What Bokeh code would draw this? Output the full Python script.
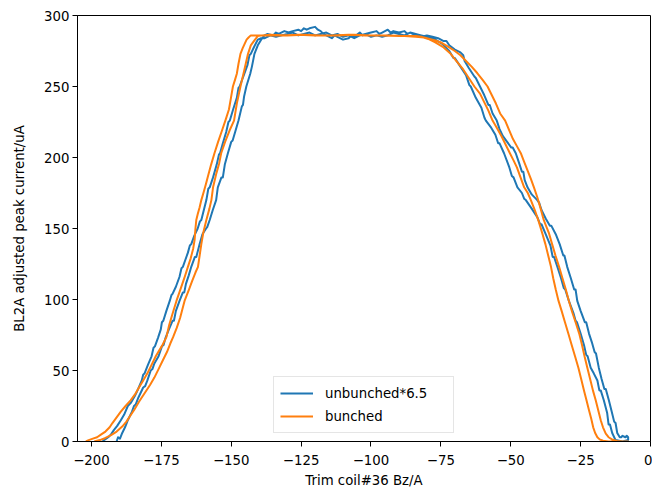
from bokeh.plotting import figure
from bokeh.models import FixedTicker, Legend, LegendItem, Range1d
from bokeh.embed import file_html
from bokeh.resources import INLINE

# ---------------- data ----------------
x_ticks = [-200, -175, -150, -125, -100, -75, -50, -25, 0]
x_tick_labels = ["\u2212200", "\u2212175", "\u2212150", "\u2212125", "\u2212100",
                 "\u221275", "\u221250", "\u221225", "0"]
y_ticks = [0, 50, 100, 150, 200, 250, 300]

series_names = ["unbunched*6.5", "bunched"]

# unbunched*6.5 : scan out (left edge up, plateau, right edge down) ...
blue_rise_out = [(-191, 0), (-190.5, 3), (-189.8, 2), (-189, 6), (-188, 10), (-187.4, 13), (-187, 15),
                 (-185.5, 21), (-184.8, 25), (-184.2, 26), (-183.2, 31), (-181.5, 38), (-180.8, 39),
                 (-180, 43), (-178.8, 50), (-178.2, 51), (-177.5, 55), (-176, 60), (-174.8, 67),
                 (-174.2, 68), (-173.5, 73), (-172.3, 79), (-171, 85), (-170.5, 85), (-169.8, 92),
                 (-168.5, 99), (-167.3, 105), (-166.8, 105), (-166.2, 111), (-165.2, 117), (-164.3, 123),
                 (-163, 130), (-162.5, 130), (-161.3, 139), (-160.3, 146), (-159, 150), (-158.6, 151),
                 (-157.7, 156), (-156.6, 163), (-155.4, 170), (-155.2, 173), (-154.8, 179), (-153.5, 186),
                 (-153, 186), (-152.3, 195), (-151.2, 203), (-150, 211), (-149.5, 212), (-148.6, 218),
                 (-147.4, 226), (-146.2, 236), (-145.8, 237), (-145.4, 243), (-144.6, 250),
                 (-143.2, 259), (-142.6, 264), (-141.7, 273), (-140.5, 279), (-139.3, 283),
                 (-138.1, 286)]
blue_top_out = [(-137, 287), (-135, 286), (-134, 288), (-133, 287), (-131, 289), (-129.5, 288),
                (-128, 289), (-126, 290), (-125, 289), (-124, 291), (-123, 290), (-122, 291),
                (-120, 292), (-119, 290), (-118, 289), (-117, 287), (-116, 286), (-114, 284),
                (-113, 286), (-112, 285), (-110, 283), (-108, 284), (-107, 286), (-106, 285),
                (-104, 288), (-103, 286), (-102, 287), (-100, 288), (-98, 289), (-97, 287), (-96, 288),
                (-94, 290), (-93, 288), (-92, 289), (-90, 288), (-88, 289), (-87, 287), (-86, 288),
                (-84, 286), (-82, 285), (-80, 286), (-78, 285)]
blue_fall_out = [(-76, 284), (-74, 282), (-73, 282), (-72, 279), (-70, 276), (-68, 274), (-67, 272),
                 (-66.5, 268), (-65, 263), (-63, 257), (-62.5, 256), (-61, 250), (-59.5, 244), (-58, 237),
                 (-57.5, 237), (-56.5, 231), (-55, 226), (-54, 220), (-52.8, 215), (-51.3, 211),
                 (-49.8, 207), (-49.3, 207), (-48.2, 203), (-47, 196), (-46, 190), (-45.5, 190),
                 (-45, 184), (-44, 179), (-42.5, 174), (-40.5, 170), (-39.8, 168), (-39, 163),
                 (-37.5, 157), (-36, 152), (-35.5, 152), (-33.9, 146), (-32.5, 139), (-31.2, 131),
                 (-30.8, 131), (-29.8, 123), (-28.5, 115), (-27.3, 107), (-26.8, 107), (-26.2, 99),
                 (-25, 92), (-23.5, 84), (-23, 84), (-22, 76), (-21, 70), (-20, 63), (-19.5, 62),
                 (-18.5, 52), (-17.5, 44), (-16.5, 37), (-16, 37), (-14.9, 29), (-14, 22), (-13, 14),
                 (-12.5, 13), (-11.9, 6), (-11, 3), (-10.5, 3), (-10, 4), (-9, 3), (-8.5, 4), (-8, 3),
                 (-8, 1)]
# ... and scan back (right edge up, plateau, left edge down)
blue_rise_back = [(-10, 0), (-12.5, 1), (-13.7, 6), (-14.5, 12), (-15, 12), (-15.5, 20), (-16.7, 29),
                  (-17.8, 36), (-18.3, 36), (-19, 43), (-20.3, 48), (-21.4, 52), (-22.5, 60),
                  (-23, 61), (-23.8, 68), (-25, 76), (-26.3, 84), (-26.8, 85), (-27.5, 90), (-29.2, 99),
                  (-30.5, 107), (-31, 108), (-32, 115), (-33.3, 123), (-34.5, 130), (-35, 130),
                  (-35.8, 138), (-37.5, 146), (-39, 153), (-39.5, 153), (-40.5, 158), (-42.5, 164),
                  (-44.6, 170), (-45.2, 171), (-46, 175), (-47.6, 179), (-49, 186), (-49.6, 187),
                  (-50.5, 193), (-52.4, 203), (-54, 210), (-54.5, 210), (-55.5, 216), (-57, 221),
                  (-58.9, 226), (-59.4, 228), (-60.5, 235), (-62.5, 242), (-64.3, 250), (-64.8, 251),
                  (-66, 258), (-68, 264), (-70, 270), (-70.5, 270), (-72, 275), (-74.5, 280), (-77, 283),
                  (-80, 285), (-82, 286)]
blue_top_back = [(-84, 287), (-86, 288), (-88, 286), (-90, 287), (-92, 288), (-94, 286), (-96, 285),
                 (-98, 286), (-100, 285), (-102, 287), (-104, 286), (-106, 284), (-108, 286), (-110, 285),
                 (-112, 287), (-114, 286), (-116, 288), (-118, 287), (-120, 286), (-122, 288), (-124, 287),
                 (-126, 286), (-128, 288), (-130, 287), (-132, 286), (-134, 285), (-136, 286), (-138, 284),
                 (-139.3, 284)]
blue_fall_back = [(-140.5, 283), (-141.8, 278), (-143, 273), (-143.5, 272), (-144.2, 265), (-145.5, 258),
                  (-147, 250), (-147.4, 249), (-148, 242), (-149.3, 234), (-150.5, 226), (-151, 225),
                  (-151.8, 218), (-153, 210), (-154, 203), (-154.4, 202), (-155.2, 195), (-156.5, 186),
                  (-157.7, 179), (-158.2, 178), (-158.9, 170), (-159.8, 163), (-160.7, 156),
                  (-161.2, 155), (-162, 150), (-163.2, 145), (-164.3, 139), (-164.8, 138),
                  (-165.5, 133), (-166.4, 128), (-167.3, 123), (-167.8, 122), (-168.5, 116),
                  (-169.8, 109), (-171, 104), (-171.4, 103), (-172, 99), (-173.2, 92), (-174.3, 85),
                  (-174.8, 84), (-175.2, 79), (-176.2, 73), (-177.3, 67), (-177.8, 66), (-178.5, 60),
                  (-179.8, 54), (-181, 48), (-181.5, 47), (-182, 43), (-183.3, 37), (-184.5, 32),
                  (-186, 27), (-187, 25), (-188.3, 19), (-189.5, 15), (-190.8, 11), (-192, 8),
                  (-193, 5), (-194, 3), (-195.5, 1), (-196, 0)]

# bunched
orange_rise_out = [(-199, 0), (-197, 1), (-195, 2.5), (-193, 4.5), (-191, 7), (-189, 10.5), (-187.5, 14),
                   (-186, 18.5), (-184.8, 22), (-183, 28), (-181, 34), (-179, 40), (-177.5, 45),
                   (-176, 51), (-174.5, 57), (-173, 63), (-171.8, 69), (-170.8, 73.5), (-169.5, 80),
                   (-168.3, 87), (-167.5, 93), (-166.7, 99), (-165.3, 106), (-164, 113), (-162.8, 119),
                   (-161.9, 123), (-161.3, 131), (-160.7, 139), (-160, 147), (-158.9, 156), (-157.8, 164),
                   (-157.1, 170), (-156.5, 179), (-155.3, 189), (-154.3, 196), (-153.6, 203),
                   (-152.2, 211), (-150.6, 219), (-149, 226), (-148, 238), (-146.7, 250), (-145.5, 260),
                   (-144, 273), (-143, 279), (-141.5, 283), (-140.5, 285.5), (-139, 286)]
orange_top_out = [(-136, 286.5), (-130, 286), (-124, 286.5), (-118, 286), (-112, 286), (-106, 286.5),
                  (-100, 286), (-94, 286), (-88, 285.5), (-84, 285), (-81, 284.5)]
orange_fall_out = [(-80, 284), (-77, 282.5), (-75, 281), (-72, 277.5), (-70, 275), (-68, 272), (-66, 268),
                   (-64, 264), (-62, 259.5), (-60, 254.5), (-58.3, 250), (-56.8, 244), (-55.3, 238),
                   (-53.8, 231), (-52, 226), (-50.5, 219), (-49.2, 213), (-47.8, 208), (-46.4, 203),
                   (-45.2, 197), (-44, 191), (-42.8, 185), (-41.7, 179), (-40.5, 172), (-39.3, 164),
                   (-38.2, 156), (-37.2, 151), (-36.3, 146.5), (-35.2, 139), (-34, 131), (-32.7, 123),
                   (-31.5, 115), (-30.3, 107), (-29.2, 99), (-28, 91), (-26.8, 84), (-25.5, 76),
                   (-24.5, 68), (-23.6, 60), (-22.6, 52), (-21.6, 44), (-20.6, 36), (-19.6, 29),
                   (-18.7, 22), (-17.8, 15), (-17, 10), (-16, 5.5), (-15, 3), (-13.5, 1.2), (-12, 0.4),
                   (-10, 0), (-8, 0)]
orange_rise_back = [(-15, 0), (-17, 0.5), (-18.2, 1.5), (-19, 3), (-19.8, 6), (-20.5, 10), (-21.2, 16),
                    (-22, 22), (-22.9, 29), (-23.8, 36), (-24.8, 44), (-25.8, 52), (-27, 60),
                    (-28.2, 68), (-29.4, 76), (-30.6, 84), (-31.8, 92), (-32.9, 99), (-33.9, 107),
                    (-34.8, 115), (-35.6, 123), (-36.6, 131), (-37.6, 139), (-38.7, 146.5), (-40, 155),
                    (-41.4, 163), (-42.8, 170), (-43.9, 175), (-45.2, 179), (-46.5, 186), (-47.8, 193),
                    (-49, 198), (-50.3, 203), (-51.8, 209), (-53.3, 215), (-55, 221), (-56.5, 226),
                    (-58, 233), (-59.5, 239), (-61, 245), (-63, 250), (-65, 256), (-67, 262),
                    (-69.5, 268), (-71.5, 273), (-74, 277.5), (-77, 281), (-79.5, 283.5), (-82, 285),
                    (-84, 285.5)]
orange_top_back = [(-90, 285.5), (-96, 286), (-102, 286), (-108, 286.5), (-114, 286), (-120, 286),
                   (-126, 286.5), (-132, 286), (-138, 286), (-142, 286)]
orange_fall_back = [(-143, 286), (-143.8, 284.5), (-144.5, 283), (-145.2, 280), (-145.9, 277),
                    (-146.7, 273), (-147.4, 266), (-148, 259), (-148.6, 255), (-149.4, 250),
                    (-150.1, 242), (-150.8, 234), (-152.1, 226), (-153.3, 219), (-154.7, 211),
                    (-156, 203), (-157.2, 195), (-158.3, 187), (-159.1, 181), (-159.8, 176),
                    (-160.7, 170), (-161.3, 165), (-162, 160), (-162.5, 156), (-162.8, 150),
                    (-163.1, 142), (-163.6, 136), (-164.5, 129), (-165.5, 123), (-166.8, 115),
                    (-168.2, 107), (-169.6, 99), (-171, 90), (-172.2, 82), (-173.2, 73.5),
                    (-174.6, 68), (-175.8, 64), (-177, 60), (-178.5, 54), (-180, 48), (-181.5, 43),
                    (-183, 38), (-184.5, 33), (-186, 29), (-187.8, 25), (-189.5, 21), (-191, 17),
                    (-192.5, 13), (-193.5, 10), (-195, 7), (-196.5, 5), (-198, 3), (-199.5, 2),
                    (-201, 1), (-202, 0)]

colors = ["#1f77b4", "#ff7f0e"]


def path(*segments):
    pts = [pt for seg in segments for pt in seg]
    return [pt[0] for pt in pts], [pt[1] for pt in pts]


blue_x, blue_y = path(blue_rise_out, blue_top_out, blue_fall_out,
                      blue_rise_back, blue_top_back, blue_fall_back)
orange_x, orange_y = path(orange_rise_out, orange_top_out, orange_fall_out,
                          orange_rise_back, orange_top_back, orange_fall_back)

# ---------------- figure ----------------
FONT = "DejaVu Sans"
p = figure(width=652, height=490, x_range=Range1d(-205, 0), y_range=Range1d(0, 300),
           output_backend="svg", toolbar_location=None,
           min_border_left=77, min_border_right=2, min_border_top=15, min_border_bottom=49)
p.background_fill_color = "white"
p.border_fill_color = "white"
p.outline_line_color = "black"
p.outline_line_width = 1
p.xgrid.visible = False
p.ygrid.visible = False

r_blue = p.line(x=blue_x, y=blue_y, line_color=colors[0], line_width=2, line_join="round")
r_orange = p.line(x=orange_x, y=orange_y, line_color=colors[1], line_width=2, line_join="round")

p.xaxis.ticker = FixedTicker(ticks=x_ticks)
p.xaxis.major_label_overrides = {t: l for t, l in zip(x_ticks, x_tick_labels)}
p.yaxis.ticker = FixedTicker(ticks=y_ticks)

for ax in (p.xaxis, p.yaxis):
    ax.axis_line_color = "black"
    ax.axis_line_width = 1
    ax.major_tick_line_color = "black"
    ax.major_tick_line_width = 1
    ax.major_tick_out = 5
    ax.major_tick_in = 0
    ax.minor_tick_out = 0
    ax.minor_tick_in = 0
    ax.major_label_text_font = FONT
    ax.major_label_text_font_size = "13.3px"
    ax.major_label_text_color = "black"
    ax.axis_label_text_font = FONT
    ax.axis_label_text_font_size = "13.3px"
    ax.axis_label_text_font_style = "normal"
    ax.axis_label_text_color = "black"

p.xaxis.axis_label = "Trim coil#36 Bz/A"
p.yaxis.axis_label = "BL2A adjusted peak current/uA"
p.xaxis.major_label_standoff = 8
p.xaxis.axis_label_standoff = 5
p.yaxis.major_label_standoff = 3
p.yaxis.axis_label_standoff = 14

legend = Legend(items=[LegendItem(label=series_names[0], renderers=[r_blue]),
                       LegendItem(label=series_names[1], renderers=[r_orange])],
                location=(196, 8), orientation="vertical")
legend.label_text_font = FONT
legend.label_text_font_size = "13.3px"
legend.label_text_color = "black"
legend.glyph_width = 33
legend.glyph_height = 20
legend.label_height = 20
legend.label_width = 122
legend.label_standoff = 12
legend.spacing = 3
legend.padding = 6
legend.margin = 0
legend.border_line_color = "#cccccc"
legend.border_line_width = 1
legend.background_fill_color = "white"
legend.background_fill_alpha = 0.8
p.add_layout(legend, "center")

open("out.html", "w").write(file_html(p, INLINE))
